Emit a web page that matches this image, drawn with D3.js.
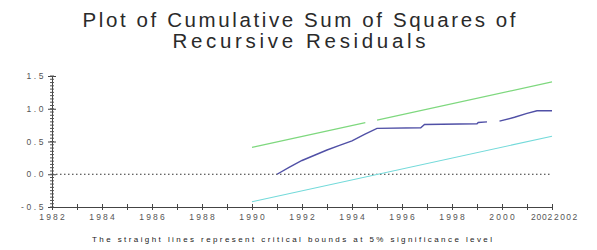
<!DOCTYPE html>
<html><head><meta charset="utf-8">
<script src="https://cdn.jsdelivr.net/npm/d3@7"></script>
<style>
body{margin:0;background:#fff;}
text{font-family:"Liberation Sans",Arial,sans-serif;}
</style></head>
<body><svg id="c" width="597" height="250"></svg>
<script>
// ---- data ----
const titleLines = ["Plot of Cumulative Sum of Squares of", "Recursive Residuals"];
const footnote = "The straight lines represent critical bounds at 5% significance level";
const yTicks = [-0.5, 0.0, 0.5, 1.0, 1.5];
const yTickLabels = ["-0.5", "0.0", "0.5", "1.0", "1.5"];
const xTicks = [1982,1984,1986,1988,1990,1992,1994,1996,1998,2000,2002];
const xTickLabels = ["1982","1984","1986","1988","1990","1992","1994","1996","1998","2000","2002"];
const xExtraLabel = "2002";
// CUSUM of squares (null = break in line)
const cusumYears = [1991.0,1991.5,1992.0,1992.5,1993.0,1993.5,1994.0,1994.5,1995.0,1996.75,1996.9,1999.0,1999.05,1999.4,1999.6,1999.9,2000.5,2001.0,2001.4,2002.0];
const cusumVals  = [0.00, 0.11, 0.21, 0.29, 0.37, 0.44, 0.51, 0.61, 0.70, 0.71, 0.76, 0.77, 0.79, 0.80, null, 0.81, 0.87, 0.93, 0.97, 0.97];
const boundYears = [1990, 2002];
const upperVals  = [0.41, 1.41];
const lowerVals  = [-0.42, 0.58];

// ---- drawing ----
const svg = d3.select("#c");
const x = d3.scaleLinear().domain([1982, 2002]).range([52, 552]);
const y = d3.scaleLinear().domain([-0.5, 1.5]).range([207, 76]);

// title
svg.selectAll("text.title").data(titleLines).join("text")
  .attr("class","title")
  .attr("x", 299).attr("y", (d,i)=> i===0 ? 26.5 : 47.5)
  .attr("text-anchor","middle")
  .attr("font-size", 20.5).attr("fill","#2a2a2a")
  .attr("textLength", (d,i)=> i===0 ? 433 : 253)
  .attr("lengthAdjust","spacing")
  .text(d=>d);

// footnote
svg.append("text").attr("x", 292).attr("y", 242).attr("text-anchor","middle")
  .attr("font-size", 8).attr("fill","#222")
  .attr("textLength", 400).attr("lengthAdjust","spacing")
  .text(footnote);

// zero dotted line
svg.append("line").attr("x1", x(1982)).attr("x2", x(2002))
  .attr("y1", y(0)).attr("y2", y(0))
  .attr("stroke","#333").attr("stroke-width",1.1).attr("stroke-dasharray","1.5,2.5");

// axes
const yAxis = d3.axisLeft(y).tickValues(yTicks).tickFormat((d,i)=>yTickLabels[i]).tickSize(4).tickPadding(4);
const gy = svg.append("g").attr("transform",`translate(${x(1982)},0)`).call(yAxis);
gy.select(".domain").attr("stroke","#444");
gy.selectAll(".tick line").attr("stroke","#444").attr("x2",-4).attr("x1",4);
gy.selectAll(".tick text").attr("font-size",8.5).attr("fill","#555")
  .attr("font-family","Liberation Sans, Arial, sans-serif").attr("letter-spacing",2.6).attr("dx",2);
// y minor ticks
const minorY = d3.range(-0.5, 1.5001, 0.05);
svg.append("g").selectAll("line").data(minorY).join("line")
  .attr("x1", x(1982)-2).attr("x2", x(1982)+2)
  .attr("y1", d=>y(d)).attr("y2", d=>y(d))
  .attr("stroke","#555").attr("stroke-width",1);

const xAxis = d3.axisBottom(x).ticks(20).tickFormat("").tickSize(3);
const gx = svg.append("g").attr("transform",`translate(0,${y(-0.5)})`).call(xAxis);
gx.select(".domain").attr("stroke","#444");
gx.selectAll(".tick line").attr("stroke","#444").attr("y1",-3).attr("y2",3);
svg.append("g").selectAll("text").data(xTicks).join("text")
  .attr("x", (d,i)=> i===xTicks.length-1 ? x(d)-11 : x(d))
  .attr("y", 220).attr("text-anchor","middle")
  .attr("font-size",8.5).attr("fill","#555")
  .attr("letter-spacing",(d,i)=> i===xTicks.length-1 ? 0.8 : 2.2)
  .attr("dx", 1.1)
  .text((d,i)=>xTickLabels[i]);
svg.append("text").attr("x", x(2002)+2).attr("y",220).attr("text-anchor","start")
  .attr("font-size",8.5).attr("fill","#555").attr("letter-spacing",1.4)
  .text(xExtraLabel);

// bounds
const line = d3.line().defined(d=>d[1]!==null).x(d=>x(d[0])).y(d=>y(d[1]));
svg.append("path").datum(boundYears.map((t,i)=>[t,upperVals[i]]))
  .attr("d", line).attr("fill","none").attr("stroke","#7ed87e").attr("stroke-width",1.1)
  .attr("stroke-dasharray","116,12,300");
svg.append("path").datum(boundYears.map((t,i)=>[t,lowerVals[i]]))
  .attr("d", line).attr("fill","none").attr("stroke","#74dada").attr("stroke-width",1.1);
// cusum of squares
svg.append("path").datum(cusumYears.map((t,i)=>[t,cusumVals[i]]))
  .attr("d", line).attr("fill","none").attr("stroke","#5050a6").attr("stroke-width",1.4);
</script></body></html>
